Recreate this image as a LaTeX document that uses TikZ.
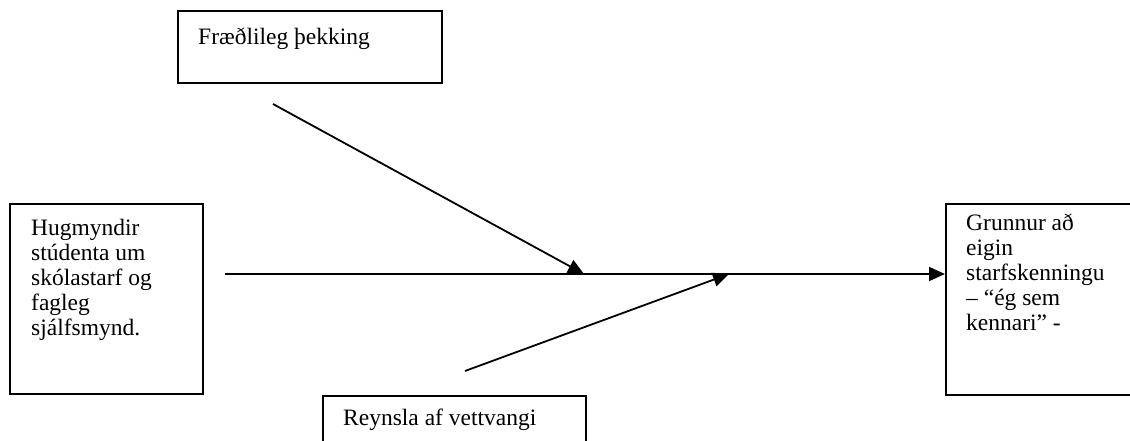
\documentclass[tikz,border=0pt]{standalone}
\usepackage{fontspec}
\setmainfont{Liberation Serif}
\usetikzlibrary{arrows.meta}
\begin{document}
\begin{tikzpicture}[x=1pt,y=-1pt,
  box/.style={draw=black,line width=1.8pt,rectangle,inner sep=0pt,anchor=north west},
  lbl/.style={anchor=base west,inner sep=0pt,align=left,font=\fontsize{23.5}{25}\selectfont},
  conn/.style={line width=1.8pt,-{Triangle[length=16pt,width=14pt]}}]
\useasboundingbox (0,0) rectangle (1130,441);
\clip (0,0) rectangle (1130,441);
\fill[white] (0,0) rectangle (1130,441);
% boxes
\node[box,minimum width=264pt,minimum height=72pt] (top) at (177,10) {};
\node[box,minimum width=193pt,minimum height=190pt] (left) at (9,203) {};
\node[box,minimum width=200pt,minimum height=191pt] (right) at (945,203) {};
\node[box,minimum width=263pt,minimum height=80pt] (bottom) at (322,395) {};
% texts (anchored at the baseline of the last line)
\node[lbl] (ttop) at (198,45) {Fræðlileg þekking};
\node[lbl] (tleft) at (31,335) {Hugmyndir\\stúdenta um\\skólastarf og\\fagleg\\sjálfsmynd.};
\node[lbl] (tright) at (966,330) {Grunnur að\\eigin\\starfskenningu\\– “ég sem\\kennari” -};
\node[lbl] (tbottom) at (343,425) {Reynsla af vettvangi};
% connectors
\coordinate (hstart) at (225,274);
\coordinate (a1s) at (273,104);
\coordinate (a1e) at (584,274);
\coordinate (a2s) at (465,371);
\coordinate (a2e) at (729,274);
\draw[conn] (hstart) -- (hstart -| right.west);
\draw[conn] (a1s) -- (a1e);
\draw[conn] (a2s) -- (a2e);
\end{tikzpicture}
\end{document}
